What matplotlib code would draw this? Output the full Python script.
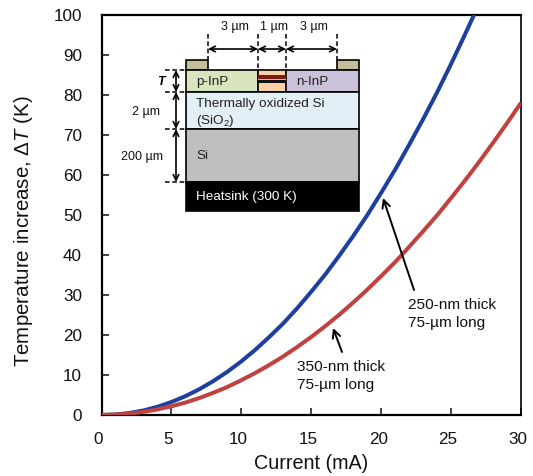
import matplotlib
matplotlib.use("Agg")
import matplotlib.pyplot as plt
from matplotlib.patches import Rectangle
from matplotlib.transforms import ScaledTranslation

plt.rcParams['font.family'] = ['Liberation Sans', 'DejaVu Sans']
plt.rcParams['mathtext.fontset'] = 'custom'
plt.rcParams['mathtext.rm'] = 'Liberation Sans'
plt.rcParams['mathtext.it'] = 'Liberation Sans:italic'

current = list(range(0, 31))
dt_250 = [0, 0.12, 0.49, 1.13, 2.05, 3.24, 4.7, 6.45, 8.48, 10.8, 13.4, 16.3, 19.5, 22.9, 26.7,
          30.8, 35.1, 39.8, 44.7, 49.9, 55.5, 61.3, 67.5, 73.9, 80.6, 87.7, 95.1, 102.7, 110.6, 119, 128]
dt_350 = [0, 0.09, 0.35, 0.78, 1.39, 2.17, 3.1, 4.25, 5.55, 7.0, 8.7, 10.5, 12.5, 14.65, 17,
          19.5, 22.2, 25.05, 28.1, 31.3, 34.7, 38.2, 42, 45.9, 49.9, 54.2, 58.6, 63.2, 68, 72.9, 78]
xticks = [0, 5, 10, 15, 20, 25, 30]
yticks = [0, 10, 20, 30, 40, 50, 60, 70, 80, 90, 100]

W, H = 533, 476
fig = plt.figure(figsize=(W / 100, H / 100), dpi=100)
ax = fig.add_axes([101.5 / W, (H - 415) / H, 419.5 / W, 400.3 / H])
ax.plot(current, dt_250, color='#1F3F9F', lw=2.9, solid_capstyle='round', zorder=3)
ax.plot(current, dt_350, color='#C0413F', lw=2.9, solid_capstyle='butt', zorder=3)
ax.set_xlim(0, 30)
ax.set_ylim(0, 100)
ax.set_xticks(xticks)
ax.set_yticks(yticks)
ax.tick_params(axis='both', direction='in', length=4.7, width=1.1, labelsize=12.3, colors='#111111')
ax.tick_params(axis='x', pad=12.5)
ax.tick_params(axis='y', pad=14)
shift = ScaledTranslation(-3 / 100, 0, fig.dpi_scale_trans)
for lab in ax.get_xticklabels():
    lab.set_transform(lab.get_transform() + shift)
for s in ax.spines.values():
    s.set_linewidth(1.6)
ax.spines['right'].set_linewidth(1.2)
ax.set_xlabel('Current (mA)', fontsize=14.2, labelpad=5, color='#111111')
ax.set_ylabel(r'Temperature increase, $\Delta T$ (K)', fontsize=14.8, color='#111111')
ax.yaxis.set_label_coords((35 - 101.5) / 419.5, (415 - 231) / 400.3)

# overlay in pixel space for the schematic and annotations
ov = fig.add_axes([0, 0, 1, 1], facecolor='none')
ov.set_xlim(0, W)
ov.set_ylim(H, 0)
ov.axis('off')


def rect(x0, y0, x1, y1, fc, lw=1.2, ec='black'):
    ov.add_patch(Rectangle((x0, y0), x1 - x0, y1 - y0, fc=fc, ec=ec, lw=lw, zorder=4))


rect(185.5, 60, 208, 70, '#C4BD97')
rect(337, 60, 359, 70, '#C4BD97')
rect(185.5, 70, 258, 92, '#D7E4BD')
rect(258, 70, 286, 92, '#FBD0A6')
rect(286, 70, 359, 92, '#CCC1DA')
rect(185.5, 92, 359, 129, '#E2EFF6')
rect(185.5, 129, 359, 182, '#BFBFBF')
rect(185.5, 182, 359, 211, 'black')
rect(258, 75, 286, 78.5, '#7A1A10', lw=0)
rect(258, 78.5, 286, 80, '#F4B183', lw=0)
rect(258, 80, 286, 82.5, '#111111', lw=0)

for x, y0, y1 in [(208, 34, 60), (258, 34, 70), (286, 34, 70), (337, 34, 60)]:
    ov.plot([x, x], [y0, y1], color='black', lw=1.1, ls=(0, (3, 1.8)), zorder=5)
for y in [70, 92, 129, 182]:
    ov.plot([165, 185], [y, y], color='black', lw=1.1, ls=(0, (3, 1.8)), zorder=5)


def dim(p0, p1):
    ov.annotate('', xy=p1, xytext=p0, zorder=6,
                arrowprops=dict(arrowstyle='<->', lw=1.2, color='black',
                                shrinkA=0, shrinkB=0, mutation_scale=10))


for a, b in [(208, 258), (258, 286), (286, 337)]:
    dim((a, 49), (b, 49))
for a, b in [(70, 92), (92, 129), (129, 182)]:
    dim((176, a), (176, b))

fs = 9.7
small = 9.0
for txt, x in [('3 µm', 235), ('1 µm', 274), ('3 µm', 314)]:
    ov.text(x, 27, txt, ha='center', va='center', fontsize=small, color='#111111', zorder=7)
ov.text(161, 82, 'T', ha='center', va='center', fontsize=9, style='italic', weight='bold', zorder=7)
ov.text(146, 112, '2 µm', ha='center', va='center', fontsize=small, color='#111111', zorder=7)
ov.text(142, 157, '200 µm', ha='center', va='center', fontsize=small, color='#111111', zorder=7)
ov.text(196, 82, 'p-InP', va='center', fontsize=fs, color='#222222', zorder=7)
ov.text(296, 82, 'n-InP', va='center', fontsize=fs, color='#222222', zorder=7)
ov.text(196, 104, 'Thermally oxidized Si', va='center', fontsize=fs, color='#222222', zorder=7)
ov.text(196, 121, r'(SiO$_2$)', va='center', fontsize=fs, color='#222222', zorder=7)
ov.text(196, 156, 'Si', va='center', fontsize=fs, color='#222222', zorder=7)
ov.text(196, 197, 'Heatsink (300 K)', va='center', fontsize=fs, color='white', zorder=7)

for tail, head in [((414, 290), (383, 198)), ((342, 352), (333, 328))]:
    ov.annotate('', xy=head, xytext=tail, zorder=6,
                arrowprops=dict(arrowstyle='->', lw=1.4, color='black',
                                shrinkA=0, shrinkB=0, mutation_scale=14))
tfs = 11.1
ov.text(408, 305, '250-nm thick', va='center', fontsize=tfs, color='#111111', zorder=7)
ov.text(408, 323, '75-µm long', va='center', fontsize=tfs, color='#111111', zorder=7)
ov.text(297, 367, '350-nm thick', va='center', fontsize=tfs, color='#111111', zorder=7)
ov.text(297, 385, '75-µm long', va='center', fontsize=tfs, color='#111111', zorder=7)

fig.savefig('out.png', dpi=100)
